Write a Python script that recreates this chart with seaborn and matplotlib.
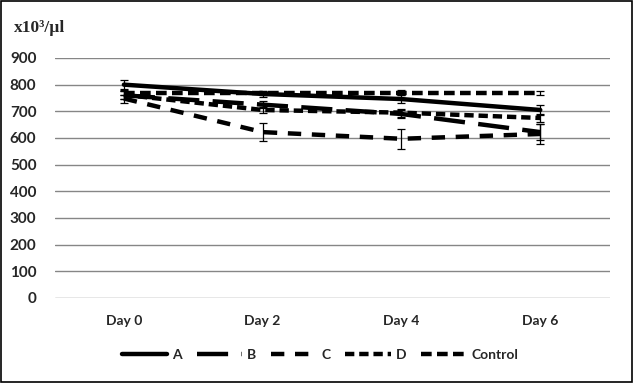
import matplotlib
matplotlib.use("Agg")
import matplotlib.pyplot as plt
import pandas as pd
import seaborn as sns
from matplotlib.patches import Rectangle

# Data (x10^3/ul)
days = ["Day 0", "Day 2", "Day 4", "Day 6"]
groups = ["A", "B", "C", "D", "Control"]
a_vals = [800, 765, 746, 705]
b_vals = [760, 725, 690, 622]
c_vals = [748, 622, 597, 615]
d_vals = [762, 705, 695, 675]
control_vals = [770, 770, 770, 770]
a_err = [18, 10, 15, 20]
b_err = [15, 12, 15, 30]
c_err = [15, 35, 38, 38]
d_err = [15, 12, 15, 15]
control_err = [10, 8, 10, 8]

values = [a_vals, b_vals, c_vals, d_vals, control_vals]
errors = [a_err, b_err, c_err, d_err, control_err]

rows = []
for g, vals in zip(groups, values):
    for i, v in enumerate(vals):
        rows.append({"pos": i, "group": g, "value": v})
df = pd.DataFrame(rows)

sns.set_theme(style="white")
plt.rcParams['font.family'] = ['Lato', 'DejaVu Sans']

fig = plt.figure(figsize=(6.33, 3.83), dpi=100)
ax = fig.add_axes([0.0861, 0.222, 0.877, 0.6266])

dashes = {"A": "", "B": (7, 3), "C": (3, 2.4), "D": (2.1, 1.1), "Control": (2.4, 1.2)}
sns.lineplot(data=df, x="pos", y="value", style="group", dashes=dashes,
             color="black", linewidth=3.2, ax=ax, legend=True)

# error bars
for vals, errs in zip(values, errors):
    ax.errorbar(range(len(days)), vals, yerr=errs, fmt="none", ecolor="black",
                elinewidth=0.9, capsize=3, capthick=0.9, zorder=3)

ax.set_xlim(-0.5, 3.5)
ax.set_ylim(0, 900)
ax.set_yticks(range(0, 901, 100))
ax.set_xticks(range(len(days)))
ax.set_xticklabels(days, fontweight="bold", fontsize=10)
for lbl in ax.get_yticklabels():
    lbl.set_fontweight("bold")
    lbl.set_fontsize(11)
ax.tick_params(axis="y", pad=13, length=0)
ax.tick_params(axis="x", pad=12, length=0)
ax.set_xlabel("")
ax.set_ylabel("")
ax.yaxis.grid(True, color="#868686", linewidth=1)
ax.set_axisbelow(True)
for s in ax.spines.values():
    s.set_visible(False)

handles, labels = ax.get_legend_handles_labels()
leg = ax.legend(handles, labels, loc="upper center", bbox_to_anchor=(0.478, -0.16),
                ncol=5, frameon=False, handlelength=3.3, handletextpad=0.3,
                columnspacing=1.1, fontsize=10)
for t in leg.get_texts():
    t.set_fontweight("bold")

fig.text(0.022, 0.905, "x10³/µl", fontfamily="Liberation Serif",
         fontweight="bold", fontsize=12.5, ha="left", va="bottom")

fig.patches.append(Rectangle((0.001, 0.002), 0.997, 0.995, transform=fig.transFigure,
                             fill=False, edgecolor="black", linewidth=1.2))

fig.savefig("out.png", dpi=100, facecolor="white")
